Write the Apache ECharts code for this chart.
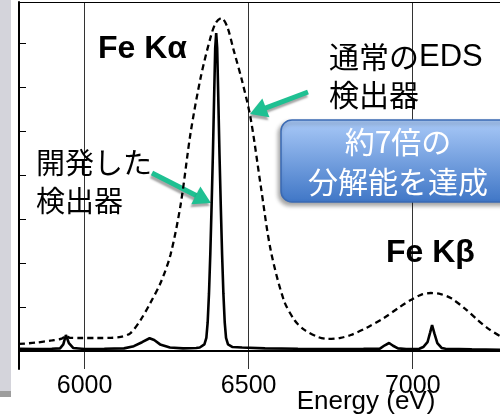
<!DOCTYPE html>
<html><head><meta charset="utf-8">
<script src="https://cdn.jsdelivr.net/npm/echarts@6/dist/echarts.min.js"></script>
<style>html,body{margin:0;padding:0;background:#fff}#c{width:500px;height:414px}</style>
</head><body><div id="c"></div>
<script>
// Developed detector (solid line)
const solidEnergy = [5800,5850,5900,5925,5935,5943,5952,5965,6000,6060,6120,6150,6175,6198,6212,6230,6260,6300,6340,6351,6365,6371,6375,6379,6383,6387,6391,6395,6398,6401,6404,6407,6411,6415,6419,6423,6427,6431,6437,6451,6480,6550,6650,6750,6850,6900,6915,6928,6940,6955,6980,7020,7032,7045,7053,7059,7066,7075,7088,7100,7180,7266];
const solidCounts = [50,45,50,60,150,365,180,70,45,50,60,110,200,290,250,150,80,60,70,80,150,300,650,1300,2200,3300,4500,5900,6900,7240,6900,5900,4500,3300,2200,1300,650,300,150,90,80,60,50,45,50,55,130,182,120,60,45,50,90,200,420,590,400,180,70,50,40,30];
// Conventional EDS (dashed line)
const edsEnergy = [5800,5850,5900,5930,5943,5955,5990,6040,6080,6110,6140,6170,6200,6232,6262,6293,6323,6354,6384,6400,6417,6435,6454,6480,6506,6537,6567,6607,6640,6670,6711,6741,6780,6811,6860,6912,6960,6994,7025,7055,7085,7116,7160,7198,7230,7266];
const edsCounts = [160,190,240,280,345,300,296,296,300,320,410,700,1090,1560,2200,3350,4970,6240,7150,7480,7585,7380,6860,6150,5300,3750,2300,1160,700,480,320,275,300,364,530,752,1000,1162,1280,1321,1295,1207,960,706,510,340];
const xTickLabels = [6000, 6500, 7000];
const yTickValues = [0, 1000, 2000, 3000, 4000, 5000, 6000, 7000];
const xName = 'Energy (eV)';
const labelKa = 'Fe K\u03b1';
const labelKb = 'Fe K\u03b2';
const labelDev = ['開発した', '検出器'];
const labelEdsJp = '通常の';
const labelEdsEn = 'EDS';
const labelEds2 = '検出器';
const labelBox = ['約7倍の', '分解能を達成'];

const pair = (xs, ys) => xs.map((x, i) => [x, ys[i]]);
const CJK = '"Noto Sans CJK JP"';
const LAT = '"Liberation Sans", Arial';
const green = '#1fc092';

function txt(text, x, y, font, fill, align, rich) {
  const st = { text: text, font: font, fill: fill || '#000',
      textAlign: align || 'left', textVerticalAlign: 'middle',
      align: align || 'left', verticalAlign: 'middle' };
  if (rich) st.rich = rich;
  return { type: 'text', z: 100, x: x, y: y, style: st };
}
function arrow(x1, y1, x2, y2) {
  const dx = x2 - x1, dy = y2 - y1, L = Math.hypot(dx, dy);
  const ux = dx / L, uy = dy / L, px = -uy, py = ux;
  const hl = 17, hw = 10;
  const bx = x2 - ux * hl, by = y2 - uy * hl;
  const sh = { shadowColor: 'rgba(0,0,0,0.35)', shadowBlur: 2, shadowOffsetX: -1, shadowOffsetY: 3 };
  return { type: 'group', z: 100, children: [
    { type: 'polyline', shape: { points: [[x1, y1], [bx + ux * 2, by + uy * 2]] },
      style: Object.assign({ stroke: green, lineWidth: 5, fill: null }, sh) },
    { type: 'polygon', shape: { points: [[x2, y2], [bx + px * hw, by + py * hw], [bx - px * hw, by - py * hw]] },
      style: Object.assign({ fill: green }, sh) }
  ] };
}

const chart = echarts.init(document.getElementById('c'), null, { renderer: 'canvas' });
chart.setOption({
  animation: false,
  backgroundColor: '#fff',
  grid: { left: 19, right: 0, top: 2, bottom: 45, containLabel: false },
  xAxis: [{
    type: 'value', min: 5800, max: 7266,
    axisLine: { show: true, lineStyle: { color: '#000', width: 2 } },
    axisTick: { show: false, customValues: xTickLabels },
    axisLabel: { customValues: xTickLabels, fontSize: 25, color: '#000', fontFamily: LAT, margin: 5,
      formatter: v => String(v) },
    splitLine: { show: true, lineStyle: { color: '#333', width: 1 } }
  }, {
    type: 'value', position: 'top', min: 5800, max: 7266,
    axisLine: { show: true, lineStyle: { color: '#000', width: 1 } },
    axisTick: { show: false }, axisLabel: { show: false }, splitLine: { show: false }
  }],
  yAxis: {
    type: 'value', min: -410, max: 7950,
    axisLine: { show: true, lineStyle: { color: '#000', width: 2 } },
    axisTick: { show: true, inside: true, length: 7, customValues: yTickValues, lineStyle: { color: '#000', width: 1 } },
    axisLabel: { show: false },
    splitLine: { show: false }
  },
  series: [{
    name: 'EDS', type: 'line', xAxisIndex: 0, data: pair(edsEnergy, edsCounts),
    showSymbol: false, smooth: 0.3, z: 2,
    lineStyle: { color: '#000', width: 2.3, type: [6, 4] }
  }, {
    name: 'Developed', type: 'line', xAxisIndex: 0, data: pair(solidEnergy, solidCounts),
    showSymbol: false, smooth: false, z: 3,
    lineStyle: { color: '#000', width: 2.6 }
  }],
  graphic: [
    { type: 'rect', z: 50, shape: { x: 0, y: 0, width: 11, height: 391 }, style: { fill: '#d4d4db' } },
    { type: 'rect', z: 50, shape: { x: 0, y: 391, width: 11, height: 6 }, style: { fill: '#9d9d9d' } },
    txt(labelKa, 98, 49, 'bold 32px ' + LAT),
    txt(labelKb, 386, 253, 'bold 32px ' + LAT),
    txt(labelDev[0], 36, 163, '29px ' + CJK),
    txt(labelDev[1], 36, 201, '29px ' + CJK),
    txt('{j|' + labelEdsJp + '}{e|' + labelEdsEn + '}', 329, 57, '29px ' + CJK, '#000', 'left',
      { j: { fontFamily: 'Noto Sans CJK JP', fontSize: 30, fill: '#000' },
        e: { fontFamily: 'Liberation Sans', fontSize: 31, fill: '#000' } }),
    txt(labelEds2, 329, 95, '30px ' + CJK),
    arrow(152, 173, 211, 203),
    arrow(308, 92, 250, 114),
    { type: 'rect', z: 90, shape: { x: 281, y: 120, width: 260, height: 82, r: 11 },
      style: { fill: { type: 'linear', x: 0, y: 0, x2: 0, y2: 1,
        colorStops: [{ offset: 0, color: '#aacaf8' }, { offset: 1, color: '#3f76c6' }] },
        stroke: '#3a6ab4', lineWidth: 1.5,
        shadowColor: 'rgba(0,0,0,0.35)', shadowBlur: 4, shadowOffsetX: -2, shadowOffsetY: 3 } },
    txt(labelBox[0], 398, 142, '30px ' + CJK, '#fff', 'center'),
    txt(labelBox[1], 398, 182, '30px ' + CJK, '#fff', 'center'),
    txt(xName, 366, 402, '26px ' + LAT, '#000', 'center')
  ]
});
</script>
</body></html>
